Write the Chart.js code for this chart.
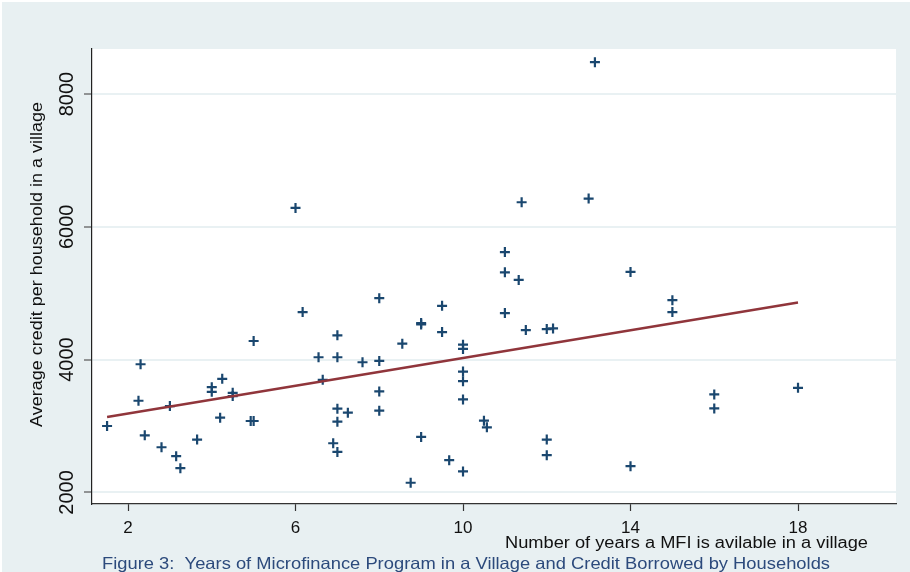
<!DOCTYPE html>
<html>
<head>
<meta charset="utf-8">
<script src="https://cdn.jsdelivr.net/npm/chart.js@4.4.1/dist/chart.umd.min.js"></script>
<style>
  html, body { margin: 0; padding: 0; background: #fff; }
  canvas { display: block; }
</style>
</head>
<body>
<canvas id="chart" width="910" height="572"></canvas>
<script>
// years a MFI has been in the village / average credit per household
const yearsX = [1.5, 2.3, 2.25, 2.4, 2.8, 3.0, 3.15, 3.25, 3.65, 4.0, 4.0, 4.2, 4.25, 4.5, 4.5,
  4.93, 5.0, 5.0, 6.0, 6.17, 6.55, 6.65, 7.0, 7.0, 7.0, 7.0, 7.25, 6.9, 7.0, 7.6, 8.0, 8.0,
  8.0, 8.0, 8.55, 9.0, 9.0, 9.0, 8.75, 9.5, 9.5, 9.67, 10.0, 10.0, 10.0, 10.0, 10.0, 10.0,
  10.5, 10.57, 11.0, 11.0, 11.0, 11.33, 11.4, 11.5, 12.0, 12.15, 12.0, 12.0, 13.0, 13.15,
  14.0, 14.0, 15.0, 15.0, 16.0, 16.0, 18.0];
const creditY = [3000, 3930, 3380, 2860, 2680, 3300, 2545, 2365, 2795, 3585, 3515, 3125, 3710, 3500, 3450,
  3075, 3075, 4280, 6285, 4715, 4035, 3695, 4365, 4035, 3260, 3065, 3200, 2740, 2610, 3960, 3980, 3520,
  3230, 4925, 4240, 4550, 4530, 2835, 2145, 4810, 4415, 2485, 4225, 4160, 3820, 3675, 3400, 2315,
  3080, 2980, 5620, 5315, 4700, 5200, 6370, 4445, 4460, 4470, 2795, 2560, 6425, 8480,
  5320, 2395, 4895, 4715, 3475, 3265, 3575];

// fitted line end points
const fitX = [1.5, 18];
const fitY = [3135, 4860];

const xTicks = [2, 6, 10, 14, 18];
const yTicks = [2000, 4000, 6000, 8000];

const yTitle = "Average credit per household in a village";
const xTitle = "Number of years a MFI is avilable in a village";
const caption = "Figure 3:  Years of Microfinance Program in a Village and Credit Borrowed by Households";

const FONT = '"Liberation Sans", Arial, sans-serif';
const BG = "#e8f0f2";

// draw text squeezed/stretched to a target width
function fitText(ctx, text, x, y, size, width, align, rot) {
  ctx.save();
  ctx.font = size + "px " + FONT;
  const w = ctx.measureText(text).width;
  ctx.translate(x, y);
  if (rot) ctx.rotate(rot);
  ctx.scale(width / w, 1);
  ctx.textAlign = align;
  ctx.textBaseline = "alphabetic";
  ctx.fillText(text, 0, 0);
  ctx.restore();
}

const decor = {
  id: "decor",
  beforeDraw(chart) {
    const { ctx, chartArea: a } = chart;
    ctx.save();
    ctx.fillStyle = "#fff";
    ctx.fillRect(0, 0, 910, 572);
    ctx.fillStyle = BG;
    ctx.fillRect(2, 2, 908, 570);
    ctx.fillStyle = "#fff";
    ctx.fillRect(a.left, a.top, a.right - a.left, a.bottom - a.top);
    ctx.restore();
  },
  afterDraw(chart) {
    const ctx = chart.ctx;
    const ys = chart.scales.y;
    ctx.save();
    ctx.fillStyle = "#111";
    ctx.font = "20px " + FONT;
    ys.ticks.forEach(t => {
      const py = ys.getPixelForValue(t.value);
      ctx.save();
      ctx.translate(73, py);
      ctx.rotate(-Math.PI / 2);
      ctx.textAlign = "center";
      ctx.textBaseline = "alphabetic";
      ctx.fillText(String(t.value), 0, 0);
      ctx.restore();
    });
    fitText(ctx, yTitle, 42, 264.5, 16, 325, "center", -Math.PI / 2);
    fitText(ctx, xTitle, 868, 548, 16, 363, "right", 0);
    ctx.fillStyle = "#2c4a7c";
    fitText(ctx, caption, 102, 569, 16.5, 728, "left", 0);
    ctx.restore();
  }
};

new Chart(document.getElementById("chart"), {
  type: "scatter",
  data: {
    datasets: [
      {
        type: "line",
        data: fitX.map((x, i) => ({ x: x, y: fitY[i] })),
        borderColor: "#90353b",
        borderWidth: 2.5,
        pointRadius: 0,
        fill: false
      },
      {
        data: yearsX.map((x, i) => ({ x: x, y: creditY[i] })),
        pointStyle: "cross",
        pointRadius: 5,
        borderColor: "#1a476f",
        borderWidth: 2.2,
        pointHoverRadius: 5
      }
    ]
  },
  options: {
    responsive: false,
    animation: false,
    events: [],
    layout: { padding: { top: 49, right: 14, left: 0, bottom: 0 } },
    plugins: { legend: { display: false }, tooltip: { enabled: false } },
    scales: {
      x: {
        type: "linear",
        min: 1.14,
        max: 20.34,
        afterBuildTicks: s => { s.ticks = xTicks.map(v => ({ value: v })); },
        afterFit: s => { s.height = 68; },
        grid: { drawOnChartArea: false, drawTicks: true, tickLength: 7, tickColor: "#333", tickWidth: 1.2 },
        border: { display: true, color: "#333", width: 1.2 },
        ticks: { color: "#111", font: { family: FONT, size: 17 }, padding: 7, maxRotation: 0 }
      },
      y: {
        type: "linear",
        min: 1825,
        max: 8678,
        afterBuildTicks: s => { s.ticks = yTicks.map(v => ({ value: v })); },
        afterFit: s => { s.width = 92; },
        grid: { color: "#e9f1f3", lineWidth: 2, drawTicks: true, tickLength: 8, tickColor: "#555", tickWidth: 1.2 },
        border: { display: true, color: "#222", width: 1.2 },
        ticks: { display: false }
      }
    }
  },
  plugins: [decor]
});
</script>
</body>
</html>
